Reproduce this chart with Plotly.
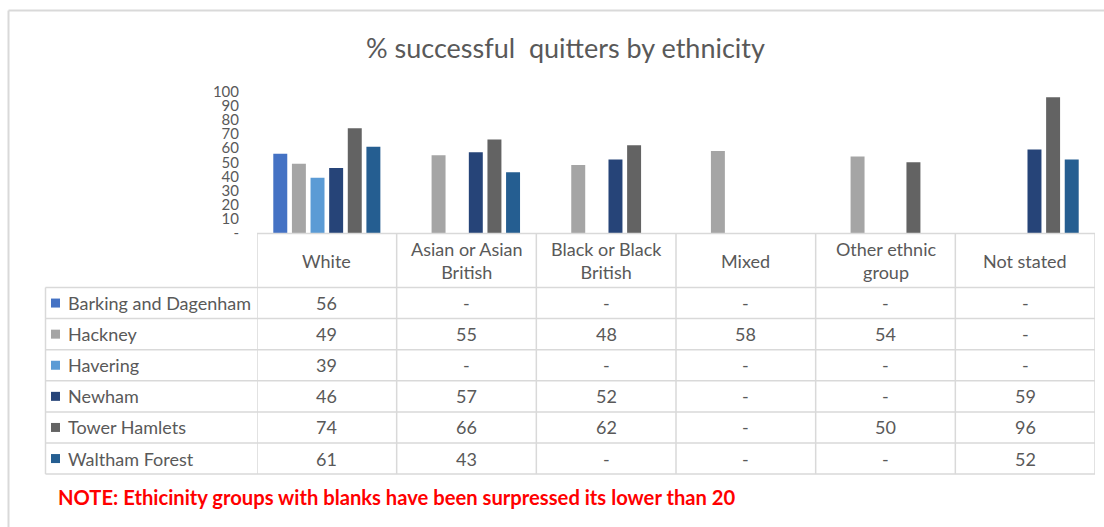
import plotly.graph_objects as go

# Ethnic groups (x categories) and their two-line header labels
categories = ["White", "Asian or Asian British", "Black or Black British",
              "Mixed", "Other ethnic group", "Not stated"]
header_labels = ["White", "Asian or Asian<br>British", "Black or Black<br>British",
                 "Mixed", "Other ethnic<br>group", "Not stated"]

# Boroughs (series) - None marks a suppressed value
boroughs = ["Barking and Dagenham", "Hackney", "Havering",
            "Newham", "Tower Hamlets", "Waltham Forest"]
barking = [56, None, None, None, None, None]
hackney = [49, 55, 48, 58, 54, None]
havering = [39, None, None, None, None, None]
newham = [46, 57, 52, None, None, 59]
tower_hamlets = [74, 66, 62, None, 50, 96]
waltham_forest = [61, 43, None, None, None, 52]
series = [barking, hackney, havering, newham, tower_hamlets, waltham_forest]

colors = ["#4472C4", "#A5A5A5", "#5B9BD5", "#264478", "#636363", "#255E91"]

y_ticks = [0, 10, 20, 30, 40, 50, 60, 70, 80, 90, 100]
y_ticktext = ["-"] + [str(v) for v in y_ticks[1:]]

title_text = "% successful  quitters by ethnicity"
note_text = "NOTE: Ethicinity groups with blanks have been surpressed its lower than 20"

W, H = 1104, 527
FONT = "Lato"
TXT = "#595959"
GRID = "#D9D9D9"


def px(x):
    return x / W


def py(y):
    return 1 - y / H


fig = go.Figure()
for name, vals, col in zip(boroughs, series, colors):
    fig.add_trace(go.Bar(x=categories, y=vals, name=name, marker_color=col,
                         marker_line_width=0))

# table geometry (pixels)
tab_left, tab_top, head_bot = 45.5, 233.5, 287.5
row_h = 31.1
n_rows = len(boroughs)
tab_bot = head_bot + row_h * n_rows
plot_left, plot_right = 257, 1095

shapes = []
line = dict(color=GRID, width=1.5)
# outer frame of the chart
shapes.append(dict(type="line", xref="paper", yref="paper", x0=px(8.5), x1=1.01,
                   y0=py(10.5), y1=py(10.5), line=dict(color=GRID, width=2)))
shapes.append(dict(type="line", xref="paper", yref="paper", x0=px(8.5), x1=px(8.5),
                   y0=py(10.5), y1=-0.01, line=dict(color=GRID, width=2)))
# top border of header row
shapes.append(dict(type="line", xref="paper", yref="paper", x0=px(plot_left), x1=px(plot_right),
                   y0=py(tab_top), y1=py(tab_top), line=line))
# row separators
for r in range(n_rows + 1):
    yy = head_bot + r * row_h
    shapes.append(dict(type="line", xref="paper", yref="paper", x0=px(tab_left), x1=px(plot_right),
                       y0=py(yy), y1=py(yy), line=line))
# left border of row-label column
shapes.append(dict(type="line", xref="paper", yref="paper", x0=px(tab_left), x1=px(tab_left),
                   y0=py(head_bot), y1=py(tab_bot), line=line))
# column separators aligned with categories
for i in range(len(categories) + 1):
    shapes.append(dict(type="line", xref="x", yref="paper", x0=i - 0.5, x1=i - 0.5,
                       y0=py(tab_top), y1=py(tab_bot), line=line))

annotations = []
# header labels
for cat, lab in zip(categories, header_labels):
    annotations.append(dict(x=cat, xref="x", y=py((tab_top + head_bot) / 2), yref="paper",
                            text=lab, showarrow=False, xanchor="center", yanchor="middle",
                            font=dict(family=FONT, size=18, color=TXT)))
# row labels with legend keys and values
for r, (name, vals, col) in enumerate(zip(boroughs, series, colors)):
    yc = head_bot + (r + 0.5) * row_h
    shapes.append(dict(type="rect", xref="paper", yref="paper", x0=px(51), x1=px(60),
                       y0=py(yc - 4.5), y1=py(yc + 4.5), fillcolor=col, line=dict(width=0)))
    annotations.append(dict(x=px(66), xref="paper", y=py(yc), yref="paper", text=name,
                            showarrow=False, xanchor="left", yanchor="middle",
                            font=dict(family=FONT, size=18, color=TXT)))
    for cat, v in zip(categories, vals):
        annotations.append(dict(x=cat, xref="x", y=py(yc), yref="paper",
                                text=str(v) if v is not None else "-",
                                showarrow=False, xanchor="center", yanchor="middle",
                                font=dict(family=FONT, size=18, color=TXT)))

# chart title
annotations.append(dict(x=px(565), xref="paper", y=py(47), yref="paper", text=title_text,
                        showarrow=False, xanchor="center", yanchor="middle",
                        font=dict(family=FONT, size=27, color=TXT)))
# footnote
annotations.append(dict(x=px(56), xref="paper", y=py(497), yref="paper",
                        text="<b>" + note_text + "</b>",
                        showarrow=False, xanchor="left", yanchor="middle",
                        font=dict(family=FONT, size=20.2, color="#FF0000")))

fig.update_layout(
    template="none",
    width=W, height=H,
    margin=dict(l=0, r=0, t=0, b=0, autoexpand=False),
    paper_bgcolor="white", plot_bgcolor="white",
    barmode="group", bargap=0.2, bargroupgap=0.25,
    showlegend=False,
    shapes=shapes, annotations=annotations,
    xaxis=dict(domain=[px(plot_left), px(plot_right)], range=[-0.5, 5.5],
               showticklabels=False, showgrid=False, zeroline=False, showline=False,
               ticks="", automargin=False, fixedrange=True),
    yaxis=dict(domain=[py(233), py(91.5)], range=[0, 100],
               tickvals=y_ticks, ticktext=y_ticktext, ticklabelstandoff=17, ticks="",
               tickfont=dict(family=FONT, size=15, color=TXT), automargin=False,
               showgrid=False, zeroline=False, showline=False, fixedrange=True),
)

fig.write_html("out.html", config={"displayModeBar": False})
